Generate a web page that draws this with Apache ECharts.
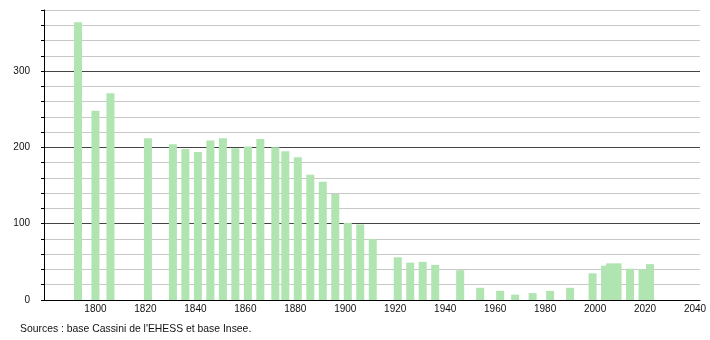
<!DOCTYPE html>
<html>
<head>
<meta charset="utf-8">
<script src="https://cdn.jsdelivr.net/npm/echarts@6/dist/echarts.min.js"></script>
<style>
html,body{margin:0;padding:0;background:#fff;}
#chart{width:710px;height:340px;}
</style>
</head>
<body>
<div id="chart"></div>
<script>
const years = [1793,1800,1806,1821,1831,1836,1841,1846,1851,1856,1861,1866,1872,1876,1881,1886,1891,1896,1901,1906,1911,1921,1926,1931,1936,1946,1954,1962,1968,1975,1982,1990,1999,2004,2006,2009,2014,2019,2022];
const population = [364,248,271,212,204,198,194,209,212,199,201,211,200,195,187,164,155,139,101,99,80,56,49,50,46,39,16,12,7,9,12,16,35,45,48,48,41,40,47];
const xTickLabels = [1800,1820,1840,1860,1880,1900,1920,1940,1960,1980,2000,2020,2040];
const yTickLabels = [0,100,200,300];
const sourceText = "Sources : base Cassini de l'EHESS et base Insee.";

const chart = echarts.init(document.getElementById('chart'));
chart.setOption({
  animation: false,
  backgroundColor: '#fff',
  grid: {left: 44, right: 10, top: 10, bottom: 40, containLabel: false},
  graphic: [{
    type: 'text', left: 20, top: 324,
    style: {text: sourceText, font: '10.4px "Liberation Sans", Arial, sans-serif', fill: '#111'}
  }],
  xAxis: {
    type: 'value', min: 1779.4, max: 2042,
    axisLine: {show: true, lineStyle: {color: '#000', width: 1}},
    axisTick: {show: false},
    splitLine: {show: false},
    axisLabel: {
      color: '#111', fontSize: 10, fontFamily: '"Liberation Sans", Arial, sans-serif', margin: 4,
      customValues: xTickLabels,
      formatter: v => String(v)
    }
  },
  yAxis: {
    type: 'value', min: 0, max: 380, interval: 20,
    axisLine: {show: true, lineStyle: {color: '#000', width: 1}},
    axisTick: {show: true, length: 3, lineStyle: {color: '#000'}},
    splitLine: {show: true, lineStyle: {color: ['#444','#c8c8c8','#c8c8c8','#c8c8c8','#c8c8c8'], width: 1}},
    axisLabel: {
      color: '#111', fontSize: 10, fontFamily: '"Liberation Sans", Arial, sans-serif', margin: 14,
      formatter: v => yTickLabels.includes(v) ? String(v) : ''
    }
  },
  series: [{
    type: 'bar',
    barWidth: 8,
    data: years.map((y, i) => [y, population[i]]),
    itemStyle: {color: '#b0e4b0'}
  }]
});
</script>
</body>
</html>
